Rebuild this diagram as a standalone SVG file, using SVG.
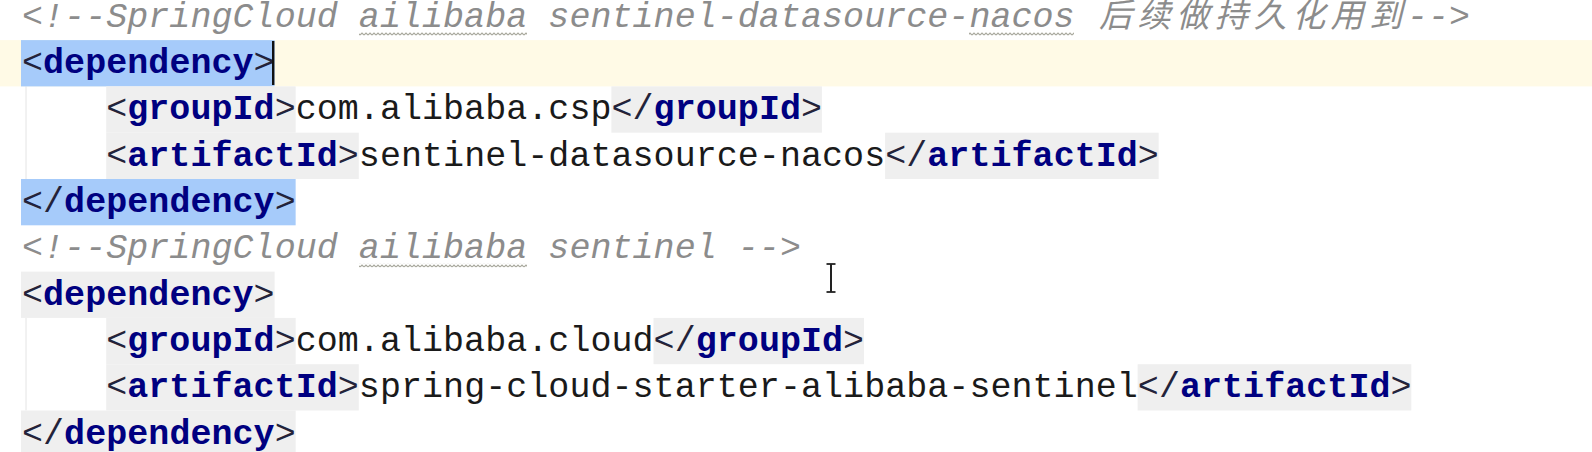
<svg xmlns="http://www.w3.org/2000/svg" width="1592" height="452" viewBox="0 0 1592 452">
<style>
  .code { font-family: "Liberation Mono", "DejaVu Sans Mono", monospace; font-size: 35px; letter-spacing: 0.05px; }
  .br { fill: #23233a; }
  .tag { fill: #000080; font-weight: bold; }
  .txt { fill: #1a1a1a; }
  .cm { fill: #8c8c8c; font-style: italic; }
  .cjk { font-family: "Liberation Mono", "Noto Sans CJK SC", sans-serif; font-size: 33px; letter-spacing: 5.6px; fill: #8c8c8c; font-style: italic; }
  .sel { fill: #a6cbfa; }
  .tbg { fill: #efefef; }
  .guide { stroke: #e4e4e4; stroke-width: 1; }
</style>
<defs>
  <pattern id="zig" x="0" y="0" width="4" height="4" patternUnits="userSpaceOnUse">
    <path d="M0 3 L2 1 L4 3" fill="none" stroke="#a8a89c" stroke-width="1.2"/>
  </pattern>
</defs>
<rect x="0" y="0" width="1592" height="452" fill="#ffffff"/>

<!-- current line highlight -->
<rect x="0" y="40.1" width="1592" height="46.3" fill="#fffae6"/>

<!-- indent guides -->
<line class="guide" x1="26" y1="86.4" x2="26" y2="179" />
<line class="guide" x1="26" y1="317.9" x2="26" y2="410.5" />

<!-- backgrounds -->
<g id="backgrounds">
  <rect class="sel" x="21" y="40.1" width="253.6" height="46.3"/>
  <rect class="tbg" x="106.2" y="86.4" width="189.45" height="46.3"/>
  <rect class="tbg" x="611.4" y="86.4" width="210.5" height="46.3"/>
  <rect class="tbg" x="106.2" y="132.7" width="252.6" height="46.3"/>
  <rect class="tbg" x="885.1" y="132.7" width="273.6" height="46.3"/>
  <rect class="sel" x="21" y="179" width="274.65" height="46.3"/>
  <rect class="tbg" x="21" y="271.6" width="253.6" height="46.3"/>
  <rect class="tbg" x="106.2" y="317.9" width="189.45" height="46.3"/>
  <rect class="tbg" x="653.5" y="317.9" width="210.5" height="46.3"/>
  <rect class="tbg" x="106.2" y="364.2" width="252.6" height="46.3"/>
  <rect class="tbg" x="1137.65" y="364.2" width="273.65" height="46.3"/>
  <rect class="tbg" x="21" y="410.5" width="274.65" height="46.3"/>
</g>

<!-- typo waves -->
<g id="waves">
  <rect x="359" y="32" width="168" height="4" fill="url(#zig)"/>
  <rect x="969" y="32" width="105" height="4" fill="url(#zig)"/>
  <rect x="359" y="263.5" width="168" height="4" fill="url(#zig)"/>
</g>

<g id="code" class="code">
  <text class="cm" x="22" y="26.8">&lt;!--SpringCloud ailibaba sentinel-datasource-nacos</text>
  <text class="cjk" x="1099" y="26.8">后续做持久化用到</text>
  <text class="cm" x="1407" y="26.8">--&gt;</text>

  <text x="22" y="73.1"><tspan class="br">&lt;</tspan><tspan class="tag">dependency</tspan><tspan class="br">&gt;</tspan></text>
  <text x="106.2" y="119.4"><tspan class="br">&lt;</tspan><tspan class="tag">groupId</tspan><tspan class="br">&gt;</tspan><tspan class="txt">com.alibaba.csp</tspan><tspan class="br">&lt;/</tspan><tspan class="tag">groupId</tspan><tspan class="br">&gt;</tspan></text>
  <text x="106.2" y="165.7"><tspan class="br">&lt;</tspan><tspan class="tag">artifactId</tspan><tspan class="br">&gt;</tspan><tspan class="txt">sentinel-datasource-nacos</tspan><tspan class="br">&lt;/</tspan><tspan class="tag">artifactId</tspan><tspan class="br">&gt;</tspan></text>
  <text x="22" y="212"><tspan class="br">&lt;/</tspan><tspan class="tag">dependency</tspan><tspan class="br">&gt;</tspan></text>

  <text class="cm" x="22" y="258.3">&lt;!--SpringCloud ailibaba sentinel --&gt;</text>

  <text x="22" y="304.6"><tspan class="br">&lt;</tspan><tspan class="tag">dependency</tspan><tspan class="br">&gt;</tspan></text>
  <text x="106.2" y="350.9"><tspan class="br">&lt;</tspan><tspan class="tag">groupId</tspan><tspan class="br">&gt;</tspan><tspan class="txt">com.alibaba.cloud</tspan><tspan class="br">&lt;/</tspan><tspan class="tag">groupId</tspan><tspan class="br">&gt;</tspan></text>
  <text x="106.2" y="397.2"><tspan class="br">&lt;</tspan><tspan class="tag">artifactId</tspan><tspan class="br">&gt;</tspan><tspan class="txt">spring-cloud-starter-alibaba-sentinel</tspan><tspan class="br">&lt;/</tspan><tspan class="tag">artifactId</tspan><tspan class="br">&gt;</tspan></text>
  <text x="22" y="443.5"><tspan class="br">&lt;/</tspan><tspan class="tag">dependency</tspan><tspan class="br">&gt;</tspan></text>
</g>

<!-- caret -->
<rect x="272" y="41" width="2.4" height="44" fill="#111111"/>

<!-- mouse I-beam -->
<g id="ibeam" stroke="#222222" fill="none">
  <line x1="831" y1="264" x2="831" y2="292" stroke-width="2"/>
  <line x1="826.5" y1="264" x2="835.5" y2="264" stroke-width="1.8"/>
  <line x1="826.5" y1="292" x2="835.5" y2="292" stroke-width="1.8"/>
</g>
</svg>
